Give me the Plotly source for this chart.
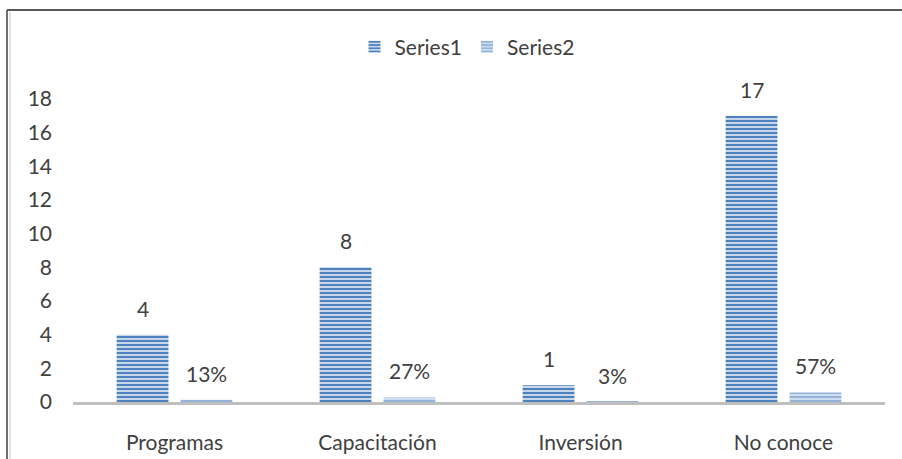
import plotly.graph_objects as go

categories = ["Programas", "Capacitación", "Inversión", "No conoce"]
series1 = [4, 8, 1, 17]
series2 = [0.13, 0.27, 0.03, 0.57]
series1_labels = ["4", "8", "1", "17"]
series2_labels = ["13%", "27%", "3%", "57%"]
y_ticks = [0, 2, 4, 6, 8, 10, 12, 14, 16, 18]

FONT = "Lato, 'Open Sans', sans-serif"
FS = 21
TXT = "#404040"

fig = go.Figure()
fig.add_trace(go.Bar(
    name="Series1", x=categories, y=series1,
    marker=dict(color="#D3E0F1", line=dict(width=0),
                pattern=dict(shape="-", fgcolor="#4F81BD", bgcolor="#D3E0F1",
                             size=4, solidity=0.55, fillmode="replace")),
))
fig.add_trace(go.Bar(
    name="Series2", x=categories, y=series2,
    marker=dict(color="#DCE7F5", line=dict(width=0),
                pattern=dict(shape="-", fgcolor="#95B3D7", bgcolor="#DCE7F5",
                             size=4, solidity=0.6, fillmode="replace")),
))

annotations = []
for c, v, t in zip(categories, series1, series1_labels):
    annotations.append(dict(x=c, y=v, text=t, xref="x", yref="y", showarrow=False,
                            yanchor="bottom", xshift=-32, yshift=12,
                            font=dict(family=FONT, size=FS, color=TXT)))
for c, v, t in zip(categories, series2, series2_labels):
    annotations.append(dict(x=c, y=v, text=t, xref="x", yref="y", showarrow=False,
                            yanchor="bottom", xshift=32, yshift=12,
                            font=dict(family=FONT, size=FS, color=TXT)))

TOPY = 1 + (99 - 10) / 303
LEFTX = (7 - 73) / 812

fig.update_layout(
    width=902, height=459,
    margin=dict(l=73, r=17, t=99, b=57, autoexpand=False),
    paper_bgcolor="white", plot_bgcolor="white",
    barmode="group", bargap=0.37, bargroupgap=0.19,
    font=dict(family=FONT, size=FS, color=TXT),
    showlegend=True,
    legend=dict(orientation="h", xref="container", yref="container",
                x=467 / 902, xanchor="center", y=1 - 47 / 459, yanchor="middle",
                bgcolor="rgba(0,0,0,0)",
                font=dict(family=FONT, size=FS, color=TXT), itemwidth=30,
                traceorder="normal"),
    annotations=annotations,
    shapes=[
        dict(type="line", xref="paper", yref="paper",
             x0=LEFTX, x1=1.05, y0=TOPY, y1=TOPY,
             line=dict(color="#595959", width=2)),
        dict(type="line", xref="paper", yref="paper",
             x0=LEFTX, x1=LEFTX, y0=TOPY, y1=-0.3,
             line=dict(color="#404040", width=1.5)),
        dict(type="line", xref="paper", yref="paper",
             x0=(10 - 73) / 812, x1=(10 - 73) / 812,
             y0=1 + (99 - 12) / 303, y1=-0.3,
             line=dict(color="#D9D9D9", width=1.5)),
    ],
)
fig.update_xaxes(showline=True, linecolor="#BFBFBF", linewidth=3, showgrid=False,
                 ticks="", ticklabelstandoff=20, tickfont=dict(size=FS))
fig.update_yaxes(range=[0, 18], tickvals=y_ticks, showgrid=False, zeroline=False,
                 showline=False, ticks="", ticklabelstandoff=20, tickfont=dict(size=FS))

fig.write_html("out.html", config={"displayModeBar": False},
               post_script="document.body.style.margin='0';")
